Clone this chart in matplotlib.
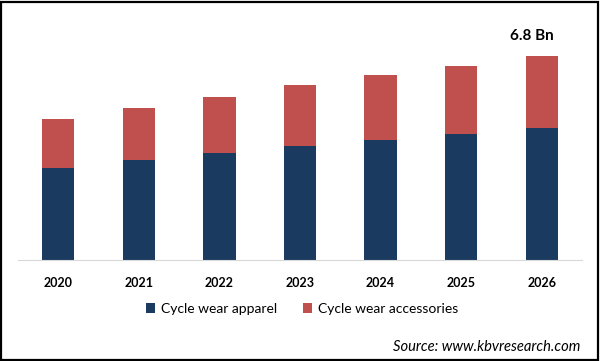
import matplotlib
matplotlib.use("Agg")
import matplotlib.pyplot as plt
from matplotlib.patches import Rectangle

plt.rcParams['font.family'] = ['Lato', 'DejaVu Sans']

# data (USD Bn)
years = ["2020", "2021", "2022", "2023", "2024", "2025", "2026"]
apparel = [3.08, 3.33, 3.57, 3.80, 4.00, 4.20, 4.40]
accessories = [1.62, 1.74, 1.86, 2.03, 2.17, 2.27, 2.40]
total_label = "6.8 Bn"

navy = "#1B3A5F"
red = "#C0504D"

fig = plt.figure(figsize=(6.01, 3.61), dpi=100)
ax = fig.add_axes([18 / 601, 101 / 361, 564 / 601, 240 / 361])

x = list(range(len(years)))
ax.bar(x, apparel, width=0.4, color=navy, label="Cycle wear apparel")
ax.bar(x, accessories, width=0.4, bottom=apparel, color=red,
       label="Cycle wear accessories")

ax.set_xlim(-0.5, 6.5)
ax.set_ylim(0, 8.0)
ax.set_xticks(x)
ax.set_xticklabels(years, fontsize=9, fontweight="bold")
ax.tick_params(axis="x", length=0, pad=12)
ax.set_yticks([])
for s in ["top", "right", "left"]:
    ax.spines[s].set_visible(False)
ax.spines["bottom"].set_color("#D9D9D9")

# label above the last bar
last = len(years) - 1
ax.text(last - 0.12, apparel[last] + accessories[last] + 0.45, total_label,
        ha="center", va="bottom", fontsize=11, fontweight="bold")

fig.legend(loc="center", bbox_to_anchor=(302 / 601, 1 - 309 / 361),
           ncol=2, frameon=False, fontsize=10, handlelength=0.65,
           handleheight=0.65, handletextpad=0.4, columnspacing=1.9)

fig.text(580 / 601, 1 - 347 / 361, "Source: www.kbvresearch.com",
         ha="right", va="center", fontsize=10.6, style="italic")

fig.add_artist(Rectangle((0.0015, 0.002), 0.994, 0.993, transform=fig.transFigure,
                         fill=False, edgecolor="black", linewidth=1.6))

fig.savefig("out.png", dpi=100)
